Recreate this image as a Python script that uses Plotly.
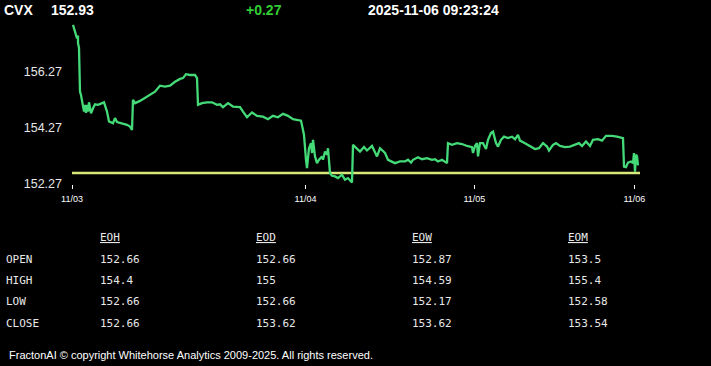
import plotly.graph_objects as go

# ---------------- data ----------------
symbol = "CVX"
last_price = "152.93"
change = "+0.27"
timestamp = "2025-11-06 09:23:24"
prev_close = 152.66

# sample index (trading-time axis) and price
sample_idx = [
    1, 3, 5, 6, 6, 7, 8, 9, 11, 12, 13, 14, 15, 16, 17, 19, 21, 23, 26, 30,
    32, 35, 37, 41, 43, 45, 50, 55, 58, 60, 61, 63, 68, 73, 78, 83, 88, 93,
    98, 103, 108, 111, 114, 118, 123, 125, 126, 130, 135, 140, 145, 148, 151,
    156, 161, 168, 171, 175, 180, 185, 191, 196, 201, 206, 211, 216, 221, 226,
    229, 231, 232, 234, 235, 237, 239, 240, 241, 243, 245, 247, 250, 251, 253,
    255, 256, 258, 260, 263, 266, 270, 273, 276, 280, 281, 285, 288, 292, 295,
    300, 303, 305, 308, 313, 316, 320, 323, 328, 333, 336, 339, 341, 346, 350,
    355, 360, 363, 366, 370, 375, 376, 380, 385, 390, 395, 400, 401, 403, 405,
    406, 408, 411, 414, 416, 419, 421, 424, 426, 429, 432, 436, 440, 443, 446,
    448, 453, 458, 463, 467, 471, 475, 477, 481, 484, 488, 493, 498, 503, 507,
    510, 514, 518, 521, 526, 530, 534, 540, 545, 550, 551, 552, 554, 556, 559,
    561, 562, 563, 564, 565, 566,
]
price = [
    157.92, 157.68, 157.44, 157.54, 157.28, 157.10, 155.55, 155.43, 155.02,
    154.84, 155.08, 154.80, 155.08, 154.84, 155.17, 154.78, 154.96, 155.10,
    155.08, 155.14, 155.17, 154.84, 154.49, 154.43, 154.61, 154.47, 154.43,
    154.37, 154.31, 154.19, 155.26, 155.14, 155.22, 155.32, 155.43, 155.55,
    155.76, 155.73, 155.76, 155.90, 156.00, 156.03, 156.17, 156.14, 156.14,
    156.03, 155.08, 155.14, 155.17, 155.17, 155.08, 155.10, 155.00, 155.14,
    155.02, 155.00, 154.84, 154.64, 154.81, 154.69, 154.66, 154.57, 154.69,
    154.64, 154.76, 154.69, 154.57, 154.55, 154.52, 154.19, 154.01, 153.13,
    152.83, 153.54, 153.72, 153.37, 153.84, 153.25, 153.01, 153.13, 153.25,
    153.13, 153.42, 153.31, 153.54, 152.66, 152.56, 152.54, 152.48, 152.60,
    152.42, 152.48, 152.32, 153.66, 153.51, 153.42, 153.58, 153.46, 153.62,
    153.42, 153.25, 153.54, 153.37, 153.13, 153.07, 153.01, 153.07, 153.07,
    153.13, 153.03, 153.13, 153.22, 153.15, 153.19, 153.13, 153.15, 153.07,
    153.13, 153.01, 153.72, 153.66, 153.72, 153.69, 153.62, 153.58, 153.37,
    153.62, 153.72, 153.25, 153.72, 153.72, 153.51, 153.84, 154.08, 154.13,
    153.72, 153.60, 153.84, 153.95, 153.90, 153.95, 153.86, 154.01, 153.81,
    153.72, 153.62, 153.51, 153.54, 153.72, 153.60, 153.46, 153.66, 153.72,
    153.62, 153.58, 153.60, 153.66, 153.72, 153.62, 153.78, 153.62, 153.84,
    153.86, 153.81, 153.98, 153.98, 153.95, 153.93, 153.90, 152.89, 152.87,
    153.03, 153.07, 153.01, 153.37, 152.71, 153.31, 153.25, 152.93,
]

x_tick_idx = [0, 233.5, 402.3, 562.3]
x_tick_labels = ["11/03", "11/04", "11/05", "11/06"]
y_tick_vals = [152.27, 154.27, 156.27]
y_tick_labels = ["152.27", "154.27", "156.27"]

table_cols = ["EOH", "EOD", "EOW", "EOM"]
table_rows = ["OPEN", "HIGH", "LOW", "CLOSE"]
eoh_vals = ["152.66", "154.4", "152.66", "152.66"]
eod_vals = ["152.66", "155", "152.66", "153.62"]
eow_vals = ["152.87", "154.59", "152.17", "153.62"]
eom_vals = ["153.5", "155.4", "152.58", "153.54"]
footer = "FractonAI \u00a9 copyright Whitehorse Analytics 2009-2025. All rights reserved."

# ---------------- layout geometry ----------------
W, H = 711, 366
L, R = 72, 640          # plot left/right in px
T, B = 22, 184.2        # plot top/bottom in px
X_MAX = 568
Y_MIN, Y_MAX = 152.27, 152.27 + (B - T) / 28.2


def pxx(x):
    return (x - L) / (R - L)


def pyy(y):
    return (B - y) / (B - T)


fig = go.Figure()
fig.add_trace(go.Scatter(
    x=[0, X_MAX], y=[prev_close, prev_close], mode="lines",
    line=dict(color="#d9e87a", width=2.5), hoverinfo="skip", showlegend=False,
))
fig.add_trace(go.Scatter(
    x=sample_idx, y=price, mode="lines",
    line=dict(color="#44da78", width=2.3), showlegend=False,
))

ann = []
hdr_font = dict(family="Liberation Sans, Arial", size=14, color="#ffffff")
ann.append(dict(text="<b>%s</b>" % symbol, x=pxx(2), y=pyy(10), xanchor="left", yanchor="middle", font=hdr_font))
ann.append(dict(text="<b>%s</b>" % last_price, x=pxx(49), y=pyy(10), xanchor="left", yanchor="middle", font=hdr_font))
ann.append(dict(text="<b>%s</b>" % change, x=pxx(244), y=pyy(10), xanchor="left", yanchor="middle",
                font=dict(family="Liberation Sans, Arial", size=14, color="#33cc33")))
ann.append(dict(text="<b>%s</b>" % timestamp, x=pxx(366), y=pyy(10), xanchor="left", yanchor="middle", font=hdr_font))

mono = dict(family="DejaVu Sans Mono, monospace", size=11, color="#e8e8e8")
col_x = [98, 254, 410, 566]
row_y = [260, 281, 302, 324]
cols_vals = [eoh_vals, eod_vals, eow_vals, eom_vals]
for cx, name in zip(col_x, table_cols):
    ann.append(dict(text="<u>%s</u>" % name, x=pxx(cx), y=pyy(238), xanchor="left", yanchor="middle", font=mono))
for ry, rname in zip(row_y, table_rows):
    ann.append(dict(text=rname, x=pxx(4), y=pyy(ry), xanchor="left", yanchor="middle", font=mono))
for cx, vals in zip(col_x, cols_vals):
    for ry, v in zip(row_y, vals):
        ann.append(dict(text=v, x=pxx(cx), y=pyy(ry), xanchor="left", yanchor="middle", font=mono))

ann.append(dict(text=footer, x=pxx(7), y=pyy(355), xanchor="left", yanchor="middle",
                font=dict(family="Liberation Sans, Arial", size=11, color="#ffffff")))

for a in ann:
    a.update(xref="paper", yref="paper", showarrow=False)

fig.update_layout(
    width=W, height=H,
    margin=dict(l=L, r=W - R, t=T, b=H - B),
    paper_bgcolor="#000000", plot_bgcolor="#000000",
    annotations=ann,
    xaxis=dict(range=[0, X_MAX], tickvals=x_tick_idx, ticktext=x_tick_labels,
               showgrid=False, zeroline=False, showline=False,
               ticks="outside", ticklen=4, tickcolor="#ffffff", tickwidth=1,
               ticklabelstandoff=2,
               tickfont=dict(family="Liberation Sans, Arial", size=9, color="#ffffff")),
    yaxis=dict(range=[Y_MIN, Y_MAX], tickvals=y_tick_vals, ticktext=y_tick_labels,
               showgrid=False, zeroline=False, showline=False, ticks="",
               ticklabelstandoff=9,
               tickfont=dict(family="Liberation Sans, Arial", size=12.5, color="#e6e6e6")),
)

fig.write_html("out.html")
